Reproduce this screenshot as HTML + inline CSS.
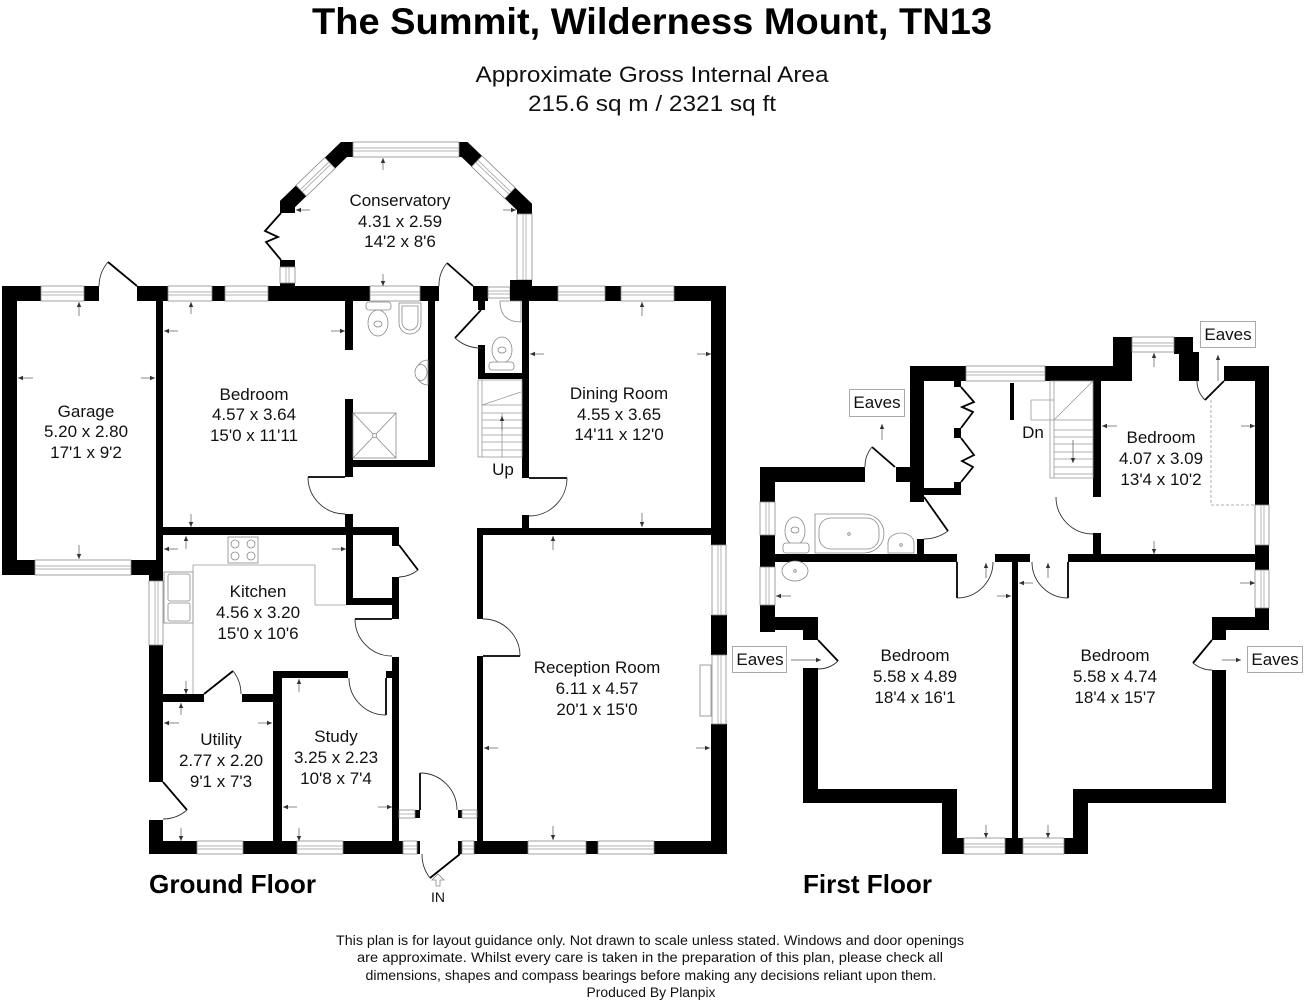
<!DOCTYPE html>
<html><head><meta charset="utf-8">
<style>
html,body{margin:0;padding:0;background:#fff;width:1304px;height:1000px;overflow:hidden}
svg{display:block}
.t{font-family:"Liberation Sans",Arial,sans-serif;font-size:17px;fill:#111;text-anchor:middle}
.w rect{fill:#fff;stroke:#8a8a8a;stroke-width:.8}
.w line{stroke:#9a9a9a;stroke-width:.7}
.lf{stroke:#000;stroke-width:1.8;fill:none}
.ar{stroke:#333;stroke-width:.9;fill:none}
.fx{fill:#fff;stroke:#888;stroke-width:.8}
.fl{stroke:#999;stroke-width:.8;fill:none}
.dm{stroke:#555;stroke-width:.7;marker-end:url(#ah)}
.bx{fill:#fff;stroke:#aaa;stroke-width:1}
</style></head>
<body>
<svg width="1304" height="1000" viewBox="0 0 1304 1000" xmlns="http://www.w3.org/2000/svg">
<defs>
<marker id="ah" markerWidth="6" markerHeight="6" refX="5" refY="3" orient="auto" markerUnits="userSpaceOnUse"><path d="M0,0.8 L5,3 L0,5.2z" fill="#333"/></marker>
</defs>

<!-- Titles -->
<text x="652" y="34" font-family="'Liberation Sans',Arial,sans-serif" font-size="37" font-weight="bold" text-anchor="middle" textLength="680" lengthAdjust="spacingAndGlyphs">The Summit, Wilderness Mount, TN13</text>
<text x="652" y="82" font-family="'Liberation Sans',Arial,sans-serif" font-size="22" text-anchor="middle" textLength="353" lengthAdjust="spacingAndGlyphs" fill="#111">Approximate Gross Internal Area</text>
<text x="652" y="111" font-family="'Liberation Sans',Arial,sans-serif" font-size="22" text-anchor="middle" textLength="248" lengthAdjust="spacingAndGlyphs" fill="#111">215.6 sq m / 2321 sq ft</text>

<!-- ================= GROUND FLOOR ================= -->
<polyline points="287.5,213 287.5,204 344,149.5 464.5,149.5 524.5,207 524.5,301" fill="none" stroke="#000" stroke-width="15" stroke-linejoin="miter"/>
<g class="w">
<g transform="translate(287.5,204) rotate(-44)"><rect x="19" y="-7.5" width="40" height="15"/><line x1="19" y1="-1.5" x2="59" y2="-1.5"/><line x1="19" y1="1.5" x2="59" y2="1.5"/></g>
<g transform="translate(464.5,149.5) rotate(43.8)"><rect x="17" y="-7.5" width="46" height="15"/><line x1="17" y1="-1.5" x2="63" y2="-1.5"/><line x1="17" y1="1.5" x2="63" y2="1.5"/></g>
</g>

<g fill="#000">
<rect x="280" y="260" width="15" height="7"/><rect x="280" y="283" width="15" height="4"/>
<rect x="2" y="286" width="39" height="15"/>
<rect x="84" y="286" width="15" height="15"/>
<rect x="137" y="286" width="31" height="15"/>
<rect x="212" y="286" width="13" height="15"/>
<rect x="268" y="286" width="102" height="15"/>
<rect x="420" y="286" width="19" height="15"/>
<rect x="473" y="286" width="15" height="15"/>
<rect x="478" y="300" width="7" height="10"/>
<rect x="510" y="286" width="48" height="15"/>
<rect x="605" y="286" width="16" height="15"/>
<rect x="674" y="286" width="52" height="15"/>
<rect x="2" y="286" width="15" height="289"/>
<rect x="2" y="560" width="33" height="15"/>
<rect x="131" y="560" width="32" height="15"/>
<rect x="149" y="560" width="14" height="21"/>
<rect x="156" y="300" width="7" height="262"/>
<rect x="149" y="645" width="14" height="137"/>
<rect x="149" y="820" width="14" height="34"/>
<rect x="163" y="527" width="236" height="8"/>
<rect x="345" y="300" width="8" height="50"/>
<rect x="345" y="399" width="8" height="78"/>
<rect x="345" y="514" width="8" height="21"/>
<rect x="428" y="300" width="7" height="167"/>
<rect x="353" y="460" width="82" height="7"/>
<rect x="346" y="535" width="7" height="70"/>
<rect x="346" y="598" width="46" height="7"/>
<rect x="392" y="527" width="7" height="19"/>
<rect x="392" y="577" width="7" height="42"/>
<rect x="392" y="657" width="7" height="197"/>
<rect x="273" y="671" width="75" height="7"/>
<rect x="386" y="671" width="6" height="7"/>
<rect x="273" y="671" width="9" height="183"/>
<rect x="163" y="694" width="41" height="8"/>
<rect x="242" y="694" width="31" height="8"/>
<rect x="149" y="841" width="48" height="13"/>
<rect x="243" y="841" width="54" height="13"/>
<rect x="343" y="841" width="60" height="13"/>
<rect x="415" y="810" width="5" height="8"/>
<rect x="458" y="810" width="4" height="8"/>
<rect x="417" y="841" width="3" height="13"/>
<rect x="458" y="841" width="4" height="13"/>
<rect x="474" y="841" width="54" height="13"/>
<rect x="586" y="841" width="12" height="13"/>
<rect x="654" y="841" width="73" height="13"/>
<rect x="477" y="528" width="249" height="7"/>
<rect x="477" y="528" width="6" height="91"/>
<rect x="477" y="656" width="6" height="186"/>
<rect x="711" y="286" width="15" height="259"/>
<rect x="711" y="615" width="16" height="40"/>
<rect x="711" y="724" width="16" height="130"/>
<rect x="522" y="286" width="7" height="192"/>
<rect x="522" y="515" width="7" height="14"/>
<rect x="478" y="345" width="7" height="34"/>
<rect x="478" y="373" width="44" height="6"/>
</g>

<g class="w">
<rect x="41" y="286" width="43" height="15"/><line x1="41" y1="292" x2="84" y2="292"/><line x1="41" y1="295" x2="84" y2="295"/>
<rect x="168" y="286" width="44" height="15"/><line x1="168" y1="292" x2="212" y2="292"/><line x1="168" y1="295" x2="212" y2="295"/>
<rect x="225" y="286" width="43" height="15"/><line x1="225" y1="292" x2="268" y2="292"/><line x1="225" y1="295" x2="268" y2="295"/>
<rect x="370" y="286" width="50" height="15"/><line x1="370" y1="292" x2="420" y2="292"/><line x1="370" y1="295" x2="420" y2="295"/>
<rect x="488" y="287" width="22" height="11"/><line x1="488" y1="291" x2="510" y2="291"/><line x1="488" y1="294" x2="510" y2="294"/>
<rect x="558" y="286" width="47" height="15"/><line x1="558" y1="292" x2="605" y2="292"/><line x1="558" y1="295" x2="605" y2="295"/>
<rect x="621" y="286" width="53" height="15"/><line x1="621" y1="292" x2="674" y2="292"/><line x1="621" y1="295" x2="674" y2="295"/>
<rect x="353" y="142" width="106" height="15"/><line x1="353" y1="148" x2="459" y2="148"/><line x1="353" y1="151" x2="459" y2="151"/>
<rect x="35" y="560" width="96" height="15"/><line x1="35" y1="566" x2="131" y2="566"/><line x1="35" y1="569" x2="131" y2="569"/>
<rect x="197" y="841" width="46" height="13"/><line x1="197" y1="846" x2="243" y2="846"/><line x1="197" y1="849" x2="243" y2="849"/>
<rect x="297" y="841" width="46" height="13"/><line x1="297" y1="846" x2="343" y2="846"/><line x1="297" y1="849" x2="343" y2="849"/>
<rect x="528" y="841" width="58" height="13"/><line x1="528" y1="846" x2="586" y2="846"/><line x1="528" y1="849" x2="586" y2="849"/>
<rect x="598" y="841" width="56" height="13"/><line x1="598" y1="846" x2="654" y2="846"/><line x1="598" y1="849" x2="654" y2="849"/>
<rect x="399" y="810" width="16" height="8"/><line x1="399" y1="814" x2="415" y2="814"/>
<rect x="462" y="810" width="15" height="8"/><line x1="462" y1="814" x2="477" y2="814"/>
<rect x="403" y="841" width="14" height="13"/><line x1="403" y1="846" x2="417" y2="846"/><line x1="403" y1="849" x2="417" y2="849"/>
<rect x="462" y="841" width="12" height="13"/><line x1="462" y1="846" x2="474" y2="846"/><line x1="462" y1="849" x2="474" y2="849"/>
<rect x="149" y="581" width="14" height="64"/><line x1="155" y1="581" x2="155" y2="645"/><line x1="158" y1="581" x2="158" y2="645"/>
<rect x="712" y="545" width="14" height="70"/><line x1="718" y1="545" x2="718" y2="615"/><line x1="721" y1="545" x2="721" y2="615"/>
<rect x="712" y="655" width="14" height="69"/><line x1="718" y1="655" x2="718" y2="724"/><line x1="721" y1="655" x2="721" y2="724"/>
<rect x="517" y="214" width="15" height="66"/><line x1="523" y1="214" x2="523" y2="280"/><line x1="526" y1="214" x2="526" y2="280"/>
<rect x="280" y="267" width="15" height="16"/><line x1="286" y1="267" x2="286" y2="283"/><line x1="289" y1="267" x2="289" y2="283"/>
</g>
<g fill="#000"><rect x="510" y="280" width="22" height="21"/></g>

<rect x="700" y="665" width="11" height="51" class="fx"/>

<polyline points="281,213 265,231 278,237 266,242 281,260" class="lf" stroke-width="1.5"/>

<g>
<line x1="137" y1="286" x2="108" y2="262" class="lf"/><path d="M108,262 A38,38 0 0 0 99,286" class="ar"/>
<line x1="473" y1="286" x2="447" y2="263" class="lf"/><path d="M447,263 A34.5,34.5 0 0 0 439,286" class="ar"/>
<line x1="481" y1="310" x2="455" y2="338" class="lf"/><path d="M455,338 A38,38 0 0 0 481,348" class="ar"/>
<line x1="345" y1="477" x2="308" y2="477" class="lf"/><path d="M308,477 A37,37 0 0 0 345,514" class="ar"/>
<line x1="529" y1="478" x2="567" y2="478" class="lf"/><path d="M567,478 A38,38 0 0 1 529,516" class="ar"/>
<line x1="399" y1="545" x2="418" y2="570" class="lf"/><path d="M418,570 A31.5,31.5 0 0 1 399,577" class="ar"/>
<line x1="392" y1="619" x2="355" y2="619" class="lf"/><path d="M355,619 A37,37 0 0 0 392,656" class="ar"/>
<line x1="483" y1="656" x2="520" y2="656" class="lf"/><path d="M520,656 A37,37 0 0 0 483,619" class="ar"/>
<line x1="204" y1="694" x2="233" y2="671" class="lf"/><path d="M233,671 A37,37 0 0 1 241,694" class="ar"/>
<line x1="163" y1="782" x2="187" y2="810" class="lf"/><path d="M187,810 A37,37 0 0 1 163,819" class="ar"/>
<line x1="386" y1="678" x2="386" y2="715" class="lf" stroke-width="1.2"/><path d="M386,715 A37,37 0 0 1 349,678" class="ar"/>
<line x1="420" y1="810" x2="420" y2="773" class="lf" stroke-width="1.2"/><path d="M420,773 A37,37 0 0 1 457,810" class="ar"/>
<line x1="460" y1="854" x2="430" y2="878" class="lf"/><path d="M430,878 A38.4,38.4 0 0 1 422,854" class="ar"/>
</g>

<g class="fl">
<rect x="478" y="380" width="44" height="77"/>
<line x1="482" y1="380" x2="482" y2="457"/>
<line x1="482" y1="405" x2="522" y2="405"/>
<line x1="482" y1="413" x2="522" y2="413"/>
<line x1="482" y1="420" x2="522" y2="420"/>
<line x1="482" y1="428" x2="522" y2="428"/>
<line x1="482" y1="435" x2="522" y2="435"/>
<line x1="482" y1="442" x2="522" y2="442"/>
<line x1="482" y1="450" x2="522" y2="450"/>
<line x1="482" y1="405" x2="521" y2="392"/>
<line x1="502" y1="413" x2="502" y2="457"/>
</g>
<line x1="502" y1="430" x2="502" y2="416" class="dm"/>

<g class="fx">
<rect x="366" y="302" width="25" height="8" rx="3"/>
<ellipse cx="378" cy="323" rx="10" ry="13"/><ellipse cx="378" cy="324" rx="4" ry="3"/>
<path d="M399,303 h22 v20 a11,11 0 0 1 -22,0 z"/><path d="M402,306 h16 v16 a8,8 0 0 1 -16,0 z"/>
<path d="M428,360 a12,12.5 0 0 0 0,25 z"/><ellipse cx="421" cy="372.5" rx="6" ry="8"/>
<rect x="353" y="413" width="43" height="45"/>
<line x1="353" y1="413" x2="396" y2="458"/><line x1="396" y1="413" x2="353" y2="458"/>
<circle cx="374.5" cy="435.5" r="2"/>
<ellipse cx="502" cy="350" rx="10" ry="13"/><ellipse cx="502" cy="350" rx="4" ry="3"/>
<rect x="489" y="362" width="25" height="8" rx="3"/>
<path d="M500,301 Q500,322 521,322 L521,301 z"/>
<rect x="228" y="537" width="30" height="26"/>
<circle cx="235" cy="544" r="4"/><circle cx="251" cy="544" r="4"/><circle cx="235" cy="556" r="4"/><circle cx="251" cy="556" r="4"/>
<rect x="164" y="572" width="29" height="51"/>
<rect x="168" y="574" width="22" height="27" rx="2"/>
<rect x="168" y="603" width="22" height="18" rx="2"/>
</g>
<g class="fl">
<line x1="193" y1="565" x2="193" y2="694"/>
<line x1="193" y1="565" x2="315" y2="565"/>
<line x1="315" y1="565" x2="315" y2="605"/>
<line x1="315" y1="605" x2="346" y2="605"/>
</g>

<g>
<line x1="79" y1="316" x2="79" y2="302" class="dm"/>
<line x1="33" y1="378" x2="18" y2="378" class="dm"/>
<line x1="141" y1="378" x2="155" y2="378" class="dm"/>
<line x1="79" y1="545" x2="79" y2="559" class="dm"/>
<line x1="191" y1="314" x2="191" y2="302" class="dm"/>
<line x1="178" y1="331" x2="164" y2="331" class="dm"/>
<line x1="331" y1="331" x2="345" y2="331" class="dm"/>
<line x1="191" y1="514" x2="191" y2="527" class="dm"/>
<line x1="383" y1="170" x2="383" y2="158" class="dm"/>
<line x1="310" y1="210" x2="296" y2="210" class="dm"/>
<line x1="503" y1="210" x2="516" y2="210" class="dm"/>
<line x1="383" y1="274" x2="383" y2="286" class="dm"/>
<line x1="642" y1="316" x2="642" y2="302" class="dm"/>
<line x1="544" y1="354" x2="530" y2="354" class="dm"/>
<line x1="697" y1="354" x2="711" y2="354" class="dm"/>
<line x1="642" y1="513" x2="642" y2="527" class="dm"/>
<line x1="186" y1="549" x2="186" y2="536" class="dm"/>
<line x1="178" y1="549" x2="164" y2="549" class="dm"/>
<line x1="332" y1="549" x2="346" y2="549" class="dm"/>
<line x1="186" y1="681" x2="186" y2="694" class="dm"/>
<line x1="553" y1="550" x2="553" y2="536" class="dm"/>
<line x1="498" y1="748" x2="484" y2="748" class="dm"/>
<line x1="696" y1="748" x2="710" y2="748" class="dm"/>
<line x1="553" y1="826" x2="553" y2="840" class="dm"/>
<line x1="181" y1="715" x2="181" y2="703" class="dm"/>
<line x1="179" y1="723" x2="164" y2="723" class="dm"/>
<line x1="258" y1="723" x2="272" y2="723" class="dm"/>
<line x1="181" y1="828" x2="181" y2="841" class="dm"/>
<line x1="299" y1="692" x2="299" y2="679" class="dm"/>
<line x1="297" y1="807" x2="283" y2="807" class="dm"/>
<line x1="378" y1="807" x2="392" y2="807" class="dm"/>
<line x1="299" y1="828" x2="299" y2="841" class="dm"/>
</g>

<path d="M438,874 l-6,6 h4 v6 h4 v-6 h4 z" fill="#fff" stroke="#888" stroke-width=".8"/>
<text x="438" y="902" font-family="'Liberation Sans',Arial,sans-serif" font-size="14" text-anchor="middle" fill="#111">IN</text>

<g class="t">
<text x="400" y="206">Conservatory</text><text x="400" y="227">4.31 x 2.59</text><text x="400" y="247">14'2 x 8'6</text>
<text x="86" y="417">Garage</text><text x="86" y="437">5.20 x 2.80</text><text x="86" y="458">17'1 x 9'2</text>
<text x="254" y="400">Bedroom</text><text x="254" y="420">4.57 x 3.64</text><text x="254" y="441">15'0 x 11'11</text>
<text x="619" y="399">Dining Room</text><text x="619" y="420">4.55 x 3.65</text><text x="619" y="440">14'11 x 12'0</text>
<text x="503" y="475">Up</text>
<text x="258" y="597">Kitchen</text><text x="258" y="618">4.56 x 3.20</text><text x="258" y="639">15'0 x 10'6</text>
<text x="597" y="673">Reception Room</text><text x="597" y="694">6.11 x 4.57</text><text x="597" y="715">20'1 x 15'0</text>
<text x="221" y="745">Utility</text><text x="221" y="766">2.77 x 2.20</text><text x="221" y="787">9'1 x 7'3</text>
<text x="336" y="742">Study</text><text x="336" y="763">3.25 x 2.23</text><text x="336" y="784">10'8 x 7'4</text>
</g>

<text x="149" y="893" font-family="'Liberation Sans',Arial,sans-serif" font-size="26" font-weight="bold" textLength="167" lengthAdjust="spacingAndGlyphs">Ground Floor</text>

<!-- ================= FIRST FLOOR ================= -->
<g fill="#000">
<rect x="760" y="467" width="105" height="15"/>
<rect x="896" y="467" width="21" height="15"/>
<rect x="910" y="366" width="14" height="136"/>
<rect x="910" y="366" width="56" height="15"/>
<rect x="1045" y="366" width="68" height="15"/>
<rect x="1113" y="337" width="19" height="44"/>
<rect x="1174" y="337" width="19" height="17"/>
<rect x="1179" y="352" width="20" height="29"/>
<rect x="1224" y="366" width="45" height="15"/>
<rect x="1255" y="366" width="14" height="139"/>
<rect x="1255" y="545" width="14" height="25"/>
<rect x="1255" y="608" width="14" height="22"/>
<rect x="1212" y="617" width="57" height="13"/>
<rect x="1212" y="617" width="14" height="23"/>
<rect x="1212" y="670" width="14" height="133"/>
<rect x="1073" y="789" width="153" height="14"/>
<rect x="1073" y="789" width="15" height="65"/>
<rect x="1064" y="838" width="24" height="16"/>
<rect x="1005" y="838" width="18" height="16"/>
<rect x="942" y="838" width="22" height="16"/>
<rect x="942" y="789" width="15" height="65"/>
<rect x="803" y="789" width="154" height="14"/>
<rect x="803" y="668" width="15" height="135"/>
<rect x="803" y="617" width="15" height="23"/>
<rect x="760" y="617" width="58" height="13"/>
<rect x="760" y="605" width="15" height="27"/>
<rect x="760" y="467" width="15" height="35"/>
<rect x="760" y="535" width="15" height="32"/>
<rect x="775" y="554" width="182" height="8"/>
<rect x="995" y="554" width="35" height="8"/>
<rect x="1068" y="554" width="187" height="8"/>
<rect x="1012" y="554" width="6" height="300"/>
<rect x="917" y="539" width="7" height="16"/>
<rect x="924" y="488" width="37" height="7"/>
<rect x="954" y="381" width="7" height="6"/>
<rect x="954" y="428" width="7" height="10"/>
<rect x="954" y="482" width="7" height="13"/>
<rect x="1093" y="381" width="8" height="116"/>
<rect x="1093" y="533" width="8" height="22"/>
<rect x="1010" y="383" width="4" height="37"/>
</g>

<g class="w">
<rect x="966" y="366" width="79" height="15"/><line x1="966" y1="372" x2="1045" y2="372"/><line x1="966" y1="375" x2="1045" y2="375"/>
<rect x="1132" y="337" width="42" height="15"/><line x1="1132" y1="343" x2="1174" y2="343"/><line x1="1132" y1="346" x2="1174" y2="346"/>
<rect x="964" y="838" width="41" height="16"/><line x1="964" y1="844" x2="1005" y2="844"/><line x1="964" y1="847" x2="1005" y2="847"/>
<rect x="1023" y="838" width="41" height="16"/><line x1="1023" y1="844" x2="1064" y2="844"/><line x1="1023" y1="847" x2="1064" y2="847"/>
<rect x="760" y="502" width="15" height="33"/><line x1="766" y1="502" x2="766" y2="535"/><line x1="769" y1="502" x2="769" y2="535"/>
<rect x="760" y="567" width="15" height="38"/><line x1="766" y1="567" x2="766" y2="605"/><line x1="769" y1="567" x2="769" y2="605"/>
<rect x="1255" y="505" width="14" height="40"/><line x1="1261" y1="505" x2="1261" y2="545"/><line x1="1264" y1="505" x2="1264" y2="545"/>
<rect x="1255" y="570" width="14" height="38"/><line x1="1261" y1="570" x2="1261" y2="608"/><line x1="1264" y1="570" x2="1264" y2="608"/>
</g>

<polyline points="961,387 974,402 962,407 973,412 961,428" class="lf" stroke-width="1.5"/>
<polyline points="961,438 974,455 962,461 973,467 961,482" class="lf" stroke-width="1.5"/>

<g>
<line x1="895" y1="467" x2="872" y2="447" class="lf"/><path d="M872,447 A30.5,30.5 0 0 0 865,467" class="ar"/>
<line x1="924" y1="497" x2="948" y2="531" class="lf"/><path d="M948,531 A41.6,41.6 0 0 1 924,539" class="ar"/>
<path d="M1056,497 A37,37 0 0 0 1093,534" class="ar"/>
<line x1="1224" y1="381" x2="1205" y2="400" class="lf"/><path d="M1205,400 A27,27 0 0 1 1197,381" class="ar"/>
<line x1="957" y1="562" x2="957" y2="598" class="lf" stroke-width="1.2"/><path d="M957,598 A36,36 0 0 0 993,562" class="ar"/>
<line x1="1068" y1="562" x2="1068" y2="598" class="lf" stroke-width="1.2"/><path d="M1068,598 A36,36 0 0 1 1032,562" class="ar"/>
<line x1="818" y1="640" x2="838" y2="661" class="lf"/><path d="M838,661 A29,29 0 0 1 818,669" class="ar"/>
<line x1="1212" y1="640" x2="1193" y2="663" class="lf"/><path d="M1193,663 A29.8,29.8 0 0 0 1212,670" class="ar"/>
</g>

<g class="fl">
<rect x="1050" y="381" width="43" height="97"/>
<line x1="1054" y1="381" x2="1054" y2="478"/>
<line x1="1031" y1="400" x2="1054" y2="400"/>
<line x1="1031" y1="400" x2="1031" y2="420"/>
<line x1="1031" y1="420" x2="1093" y2="420"/>
<line x1="1054" y1="430" x2="1093" y2="430"/>
<line x1="1054" y1="437" x2="1093" y2="437"/>
<line x1="1054" y1="444" x2="1093" y2="444"/>
<line x1="1054" y1="452" x2="1093" y2="452"/>
<line x1="1054" y1="459" x2="1093" y2="459"/>
<line x1="1054" y1="467" x2="1093" y2="467"/>
<line x1="1054" y1="474" x2="1093" y2="474"/>
<line x1="1054" y1="420" x2="1093" y2="381"/>
</g>
<line x1="1073" y1="440" x2="1073" y2="463" class="dm"/>

<path d="M1211,400 V505 H1255" fill="none" stroke="#999" stroke-width=".8" stroke-dasharray="3,2"/>

<g class="fx">
<ellipse cx="795" cy="531" rx="10" ry="14"/><ellipse cx="795" cy="530" rx="4" ry="3"/>
<rect x="783" y="543" width="26" height="10" rx="3"/>
<path d="M815,514 h49 a20,19.5 0 0 1 0,39 h-49 z"/>
<rect x="819" y="518" width="60" height="31" rx="12"/>
<circle cx="849" cy="534" r="1.3"/>
<path d="M888,553 v-10 a13,10 0 0 1 26,0 v10 z"/>
<circle cx="901" cy="545" r="1.3"/>
<ellipse cx="795" cy="571" rx="13" ry="10"/>
<circle cx="795" cy="571" r="1.3"/>
</g>

<g>
<line x1="1154" y1="367" x2="1154" y2="353" class="dm"/>
<line x1="1117" y1="426" x2="1102" y2="426" class="dm"/>
<line x1="1241" y1="426" x2="1255" y2="426" class="dm"/>
<line x1="1154" y1="541" x2="1154" y2="554" class="dm"/>
<line x1="986" y1="578" x2="986" y2="563" class="dm"/>
<line x1="791" y1="596" x2="776" y2="596" class="dm"/>
<line x1="997" y1="596" x2="1011" y2="596" class="dm"/>
<line x1="986" y1="825" x2="986" y2="838" class="dm"/>
<line x1="1048" y1="578" x2="1048" y2="563" class="dm"/>
<line x1="1033" y1="583" x2="1019" y2="583" class="dm"/>
<line x1="1240" y1="583" x2="1255" y2="583" class="dm"/>
<line x1="1048" y1="825" x2="1048" y2="838" class="dm"/>
<line x1="1218" y1="381" x2="1218" y2="355" class="dm"/>
<line x1="882" y1="440" x2="882" y2="424" class="dm"/>
<line x1="791" y1="660" x2="821" y2="660" class="dm"/>
<line x1="1222" y1="660" x2="1241" y2="660" class="dm"/>
</g>

<rect x="1200.5" y="321.5" width="55" height="26" class="bx"/>
<rect x="849.5" y="389.5" width="55" height="27" class="bx"/>
<rect x="732.5" y="646.5" width="54" height="26" class="bx"/>
<rect x="1247.5" y="646.5" width="55" height="26" class="bx"/>

<g class="t">
<text x="1228" y="340">Eaves</text>
<text x="877" y="408">Eaves</text>
<text x="760" y="665">Eaves</text>
<text x="1275" y="665">Eaves</text>
<text x="1033" y="438">Dn</text>
<text x="1161" y="443">Bedroom</text><text x="1161" y="464">4.07 x 3.09</text><text x="1161" y="485">13'4 x 10'2</text>
<text x="915" y="661">Bedroom</text><text x="915" y="682">5.58 x 4.89</text><text x="915" y="703">18'4 x 16'1</text>
<text x="1115" y="661">Bedroom</text><text x="1115" y="682">5.58 x 4.74</text><text x="1115" y="703">18'4 x 15'7</text>
</g>

<text x="803" y="893" font-family="'Liberation Sans',Arial,sans-serif" font-size="26" font-weight="bold" textLength="129" lengthAdjust="spacingAndGlyphs">First Floor</text>

<g font-family="'Liberation Sans',Arial,sans-serif" font-size="13.5" fill="#111" text-anchor="middle">
<text x="650" y="945" textLength="628" lengthAdjust="spacingAndGlyphs">This plan is for layout guidance only. Not drawn to scale unless stated. Windows and door openings</text>
<text x="650" y="962" textLength="586" lengthAdjust="spacingAndGlyphs">are approximate. Whilst every care is taken in the preparation of this plan, please check all</text>
<text x="651" y="980" textLength="571" lengthAdjust="spacingAndGlyphs">dimensions, shapes and compass bearings before making any decisions reliant upon them.</text>
<text x="651" y="997" textLength="129" lengthAdjust="spacingAndGlyphs">Produced By Planpix</text>
</g>
</svg>
</body></html>
